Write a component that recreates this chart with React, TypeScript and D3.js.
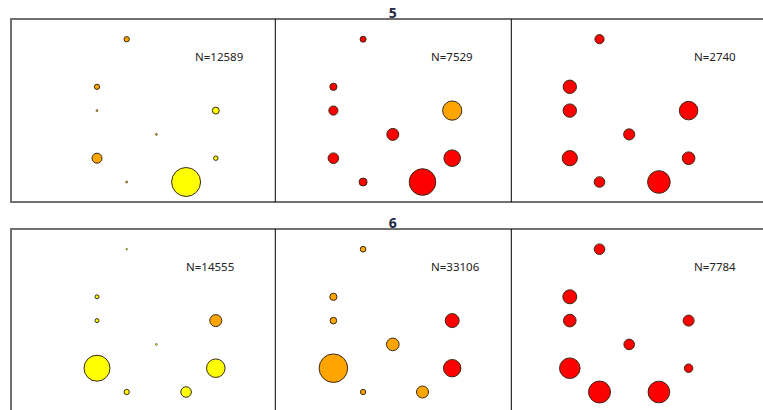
import React from "react";
import * as d3 from "d3";

// ---- data ----
const rowTitles = ["5", "6"];
const nValues = [
  [12589, 7529, 2740],
  [14555, 33106, 7784],
];
// grid position of each of the 9 cells (column index, row level)
const pointCols = [1, 0, 0, 4, 2, 0, 4, 1, 3];
const pointRows = [0, 2, 3, 3, 4, 5, 5, 6, 6];
// bubble size values (area units) per row, per panel
const sizes = [
  [
    [7, 7, 1, 12, 1, 25, 5, 1, 210],
    [9, 13, 21, 92, 36, 28, 69, 16, 177],
    [21, 45, 45, 86, 31, 58, 40, 28, 128],
  ],
  [
    [0.6, 4, 4, 36, 0.8, 169, 86, 7, 28],
    [8, 13, 11, 49, 40, 204, 76, 7, 36],
    [28, 49, 40, 30, 28, 106, 18, 121, 117],
  ],
];
// colour class per bubble: y = yellow, o = orange, r = red
const classes = [
  [
    ["o", "o", "o", "y", "o", "o", "y", "o", "y"],
    ["r", "r", "r", "o", "r", "r", "r", "r", "r"],
    ["r", "r", "r", "r", "r", "r", "r", "r", "r"],
  ],
  [
    ["y", "y", "y", "o", "y", "y", "y", "y", "y"],
    ["o", "o", "o", "r", "o", "o", "r", "o", "o"],
    ["r", "r", "r", "r", "r", "r", "r", "r", "r"],
  ],
];

// ---- layout ----
const W = 763;
const H = 410;
const rowTops = [19, 229];
const rowHeight = 183;
const frameLeft = 11;
const panelEdges = [275.3, 511.3];
const panelCenters = [156.4, 392.8, 629.2];
const colStep = 29.7;
const rowStep = 23.8;
const firstRowOffset = 20.2;
const labelX = [
  [195, 431, 694],
  [186, 431, 694],
];
const labelDy = 42;

const color = d3
  .scaleOrdinal<string, string>()
  .domain(["y", "o", "r"])
  .range(["#FFFF00", "#FFA500", "#FF0000"]);
const rScale = d3.scaleSqrt().domain([0, 225]).range([0, 15]);
const colScale = d3.scaleLinear().domain([0, 4]).range([-2 * colStep, 2 * colStep]);
const rowScale = d3.scaleLinear().domain([0, 6]).range([0, 6 * rowStep]);

export default function App() {
  return (
    <svg
      width={W}
      height={H}
      style={{ position: "absolute", left: 0, top: 0, background: "#fff" }}
      fontFamily="'Noto Sans', 'Open Sans', sans-serif"
    >
      {rowTitles.map((title, ri) => {
        const top = rowTops[ri];
        return (
          <g key={title}>
            {/* frame */}
            <path
              d={`M${W + 20},${top} H${frameLeft} V${top + rowHeight} H${W + 20}`}
              fill="none"
              stroke="#707070"
              strokeWidth={2}
            />
            {panelEdges.map((x) => (
              <line key={x} x1={x} x2={x} y1={top} y2={top + rowHeight} stroke="#000" strokeWidth={1} />
            ))}
            <text
              x={panelCenters[1]}
              y={top - 1}
              textAnchor="middle"
              fontSize={14}
              fontWeight="bold"
              fill="#1f2a44"
            >
              {title}
            </text>
            {nValues[ri].map((n, pi) => (
              <g key={pi}>
                <text x={labelX[ri][pi]} y={top + labelDy} fontSize={11.5} fill="#222">
                  {`N=${n}`}
                </text>
                {sizes[ri][pi].map((v, k) => (
                  <circle
                    key={k}
                    cx={panelCenters[pi] + colScale(pointCols[k])}
                    cy={top + firstRowOffset + rowScale(pointRows[k])}
                    r={Math.max(rScale(v), 0.8)}
                    fill={color(classes[ri][pi][k])}
                    stroke="#3a2a1a"
                    strokeWidth={rScale(v) < 1.5 ? 0.6 : 1}
                  />
                ))}
              </g>
            ))}
          </g>
        );
      })}
    </svg>
  );
}
